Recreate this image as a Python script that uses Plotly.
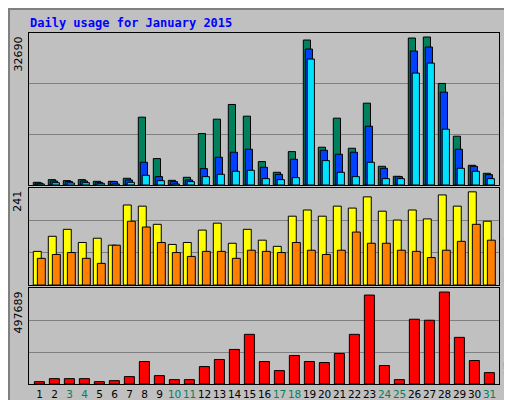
import plotly.graph_objects as go
from plotly.subplots import make_subplots

days = list(range(1, 32))
hits = [575, 1150, 940, 1150, 790, 790, 1440, 14585, 5676, 1000, 1650, 11064, 14154, 17315, 14800, 5030,
        2730, 7185, 31180, 8120, 14370, 7900, 17600, 4020, 1870, 31610, 31830, 21840, 10490, 4240, 2515]
files = [430, 860, 720, 860, 575, 720, 1080, 4885, 1800, 720, 1080, 3520, 5960, 7040, 7690, 3810,
         2300, 5530, 29240, 7470, 6610, 7040, 12645, 3590, 1800, 28810, 29670, 19970, 7690, 4020, 2230]
pages = [215, 500, 430, 500, 360, 215, 575, 2085, 935, 215, 720, 1800, 2300, 2950, 3160, 1365,
         1150, 1580, 27090, 5245, 2730, 1800, 4885, 1365, 1365, 24070, 26220, 12000, 3590, 2950, 1365]
visits = [87, 126, 144, 110, 121, 103, 207, 204, 157, 105, 110, 142, 160, 108, 144, 116,
          100, 178, 194, 178, 204, 199, 228, 191, 168, 194, 171, 233, 204, 241, 165]
sites = [69, 79, 84, 69, 56, 103, 165, 150, 110, 84, 74, 87, 87, 69, 90, 87,
         84, 110, 90, 79, 90, 137, 108, 108, 90, 87, 71, 90, 113, 157, 116]
kbytes = [12700, 29000, 29000, 29000, 12700, 18000, 40000, 121700, 45400, 23600, 23600, 94400, 132600,
          187000, 268800, 121700, 72600, 154400, 121700, 116200, 165300, 268800, 481200, 99900, 23600,
          350500, 345000, 497689, 252400, 127100, 61700]
weekend = [3, 4, 10, 11, 17, 18, 24, 25, 31]

top_max, mid_max, bot_max = 32690, 241, 497689
top_rng = [0, 32690]
mid_rng = [0, 241 * 288 / 277]
bot_rng = [0, 497689 * 286 / 274]

fig = make_subplots(rows=3, cols=1, shared_xaxes=False, vertical_spacing=0)

def add(row, y, color, offset, width):
    fig.add_trace(go.Bar(x=days, y=y, offset=offset, width=width, marker_color=color,
                         marker_line=dict(color="black", width=1), showlegend=False), row=row, col=1)

add(1, hits, "#00805C", 0, 0.48)
add(1, files, "#0040FF", 0.13, 0.48)
add(1, pages, "#00E0FF", 0.26, 0.48)
add(2, visits, "#FFFF00", 0, 0.53)
add(2, sites, "#FF8000", 0.27, 0.53)
add(3, kbytes, "#FF0000", 0.07, 0.67)

fig.update_layout(barmode="overlay", width=512, height=400,
                  margin=dict(l=21, r=21, t=25, b=24, autoexpand=False),
                  paper_bgcolor="#C0C0C0", plot_bgcolor="#C0C0C0",
                  font=dict(family="DejaVu Sans", size=11, color="black"))

xr = [0.713, 0.713 + 470 / 15]
ticktext = ["<span style='color:#00805C'>%d</span>" % d if d in weekend else str(d) for d in days]
domains = [[0.567, 1.0], [0.282, 0.558], [0.0, 0.2735]]
ranges = [top_rng, mid_rng, bot_rng]
for i in range(3):
    xa = "xaxis" if i == 0 else "xaxis%d" % (i + 1)
    ya = "yaxis" if i == 0 else "yaxis%d" % (i + 1)
    fig.layout[xa].update(range=xr, showgrid=False, zeroline=False, showline=True, mirror=True,
                          linecolor="black", ticks="", automargin=False, tickangle=0,
                          tickfont=dict(size=10.5),
                          tickvals=[d + 0.42 for d in days] if i == 2 else [],
                          ticktext=ticktext if i == 2 else [])
    r = ranges[i]
    fig.layout[ya].update(domain=domains[i], range=r, showticklabels=False, zeroline=False,
                          tickvals=[r[1] / 3, 2 * r[1] / 3], gridcolor="#808080", automargin=False,
                          showline=True, mirror=True, linecolor="black")

def lab(text, ytop):
    fig.add_annotation(text=text, xref="paper", yref="paper", x=-0.005, y=ytop, xanchor="right",
                       yanchor="top", textangle=-90, showarrow=False,
                       font=dict(family="DejaVu Sans", size=11, color="black"))

lab(str(top_max), 0.995)
lab(str(mid_max), 0.555)
lab(str(bot_max), 0.27)

def side(text, ytop):
    fig.add_annotation(text=text, xref="paper", yref="paper", x=1.002, y=ytop, xanchor="left",
                       yanchor="top", textangle=-90, showarrow=False,
                       font=dict(family="DejaVu Sans Mono", size=11, color="black"))

side("<span style='color:#00E0FF'>Pages</span> / <span style='color:#0040FF'>Files</span>"
     " / <span style='color:#00805C'>Hits</span>", 0.995)
side("<span style='color:#FF8000'>Sites</span> / <span style='color:#FFFF00'>Visits</span>", 0.555)
side("<span style='color:#FF0000'>KBytes</span>", 0.15)

fig.add_annotation(text="<b>Daily usage for January 2015</b>", xref="paper", yref="paper",
                   x=-0.002, y=1 + 10 / 351, xanchor="left", yanchor="middle", showarrow=False,
                   font=dict(family="DejaVu Sans Mono", size=12, color="#0000FF"))

fig.add_shape(type="rect", xref="paper", yref="paper", x0=-20 / 470, x1=1 + 19 / 470,
              y0=-22 / 351, y1=1 + 24 / 351, line=dict(color="#808080", width=2))

fig.write_html("out.html")
